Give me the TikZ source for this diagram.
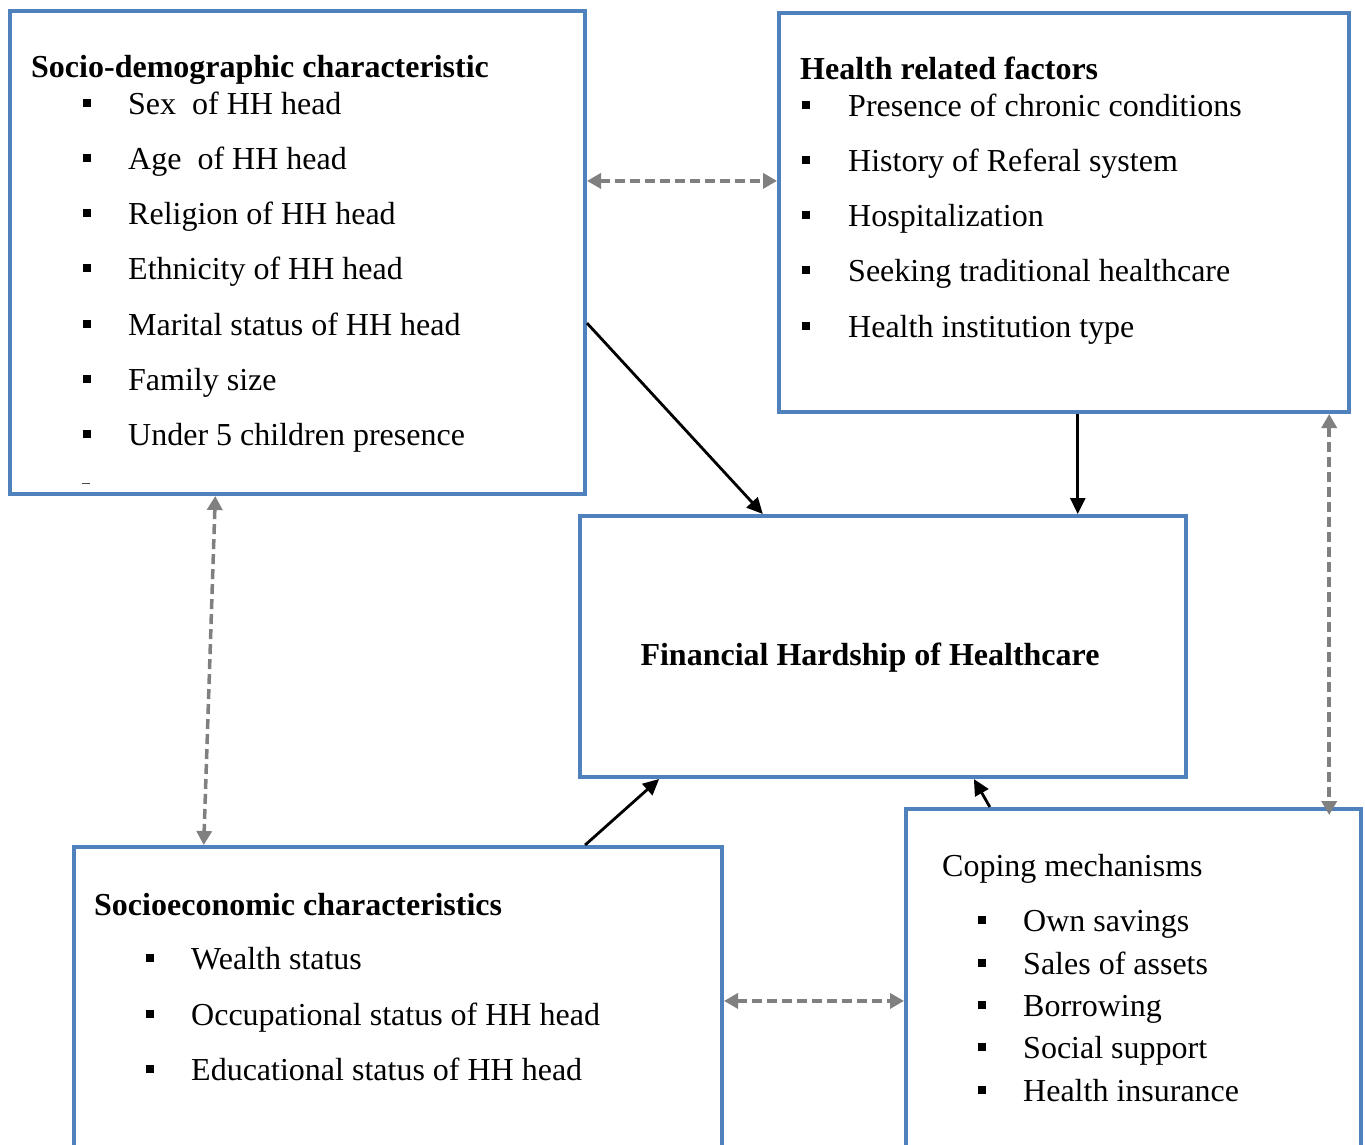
\documentclass[tikz,border=0pt]{standalone}
\usepackage{fontspec}
\setmainfont{Liberation Serif}
\usetikzlibrary{arrows.meta,calc}
\definecolor{boxblue}{HTML}{4F81BD}
\definecolor{arrgray}{HTML}{808080}
\tikzset{
  box/.style={draw=boxblue, line width=4pt, outer sep=2pt, inner sep=0pt, rectangle, anchor=center},
  txt/.style={anchor=base west, inner sep=0pt, font=\fontsize{32}{38}\selectfont},
  ttl/.style={anchor=base west, inner sep=0pt, font=\fontsize{32}{38}\selectfont\bfseries},
  bsq/.style={fill=black, minimum size=8pt, inner sep=0pt},
  solidarr/.style={line width=2.8pt, -{Triangle[length=16pt,width=15pt]}},
  dasharr/.style={arrgray, line width=3.5pt, dash pattern=on 10pt off 5pt,
    {Triangle[length=14pt,width=15pt]}-{Triangle[length=14pt,width=15pt]}},
}
\newcommand\bitem[5]{%
  \node[bsq] (#1b) at (#2,#4-11) {};
  \node[txt] (#1) at (#3,#4) {#5};
}
\begin{document}
\begin{tikzpicture}[x=1pt,y=-1pt]
\path[use as bounding box, clip] (0,0) rectangle (1365,1144);
\fill[white] (0,0) rectangle (1365,1144);

% boxes
\node[box, minimum width=575pt, minimum height=483pt] (box1) at (297.5,252.5) {};
\node[box, minimum width=570pt, minimum height=399pt] (box2) at (1064,212.5) {};
\node[box, minimum width=606pt, minimum height=261pt] (box3) at (883,646.5) {};
\node[box, minimum width=648pt, minimum height=401pt] (box4) at (398,1047.5) {};
\node[box, minimum width=455pt, minimum height=439pt] (box5) at (1133.5,1028.5) {};

% box 1 text
\node[ttl] (t1) at (31,77) {Socio-demographic characteristic};
\bitem{a1}{87}{128}{114}{Sex\ \ of HH head}
\bitem{a2}{87}{128}{169}{Age\ \ of HH head}
\bitem{a3}{87}{128}{224}{Religion of HH head}
\bitem{a4}{87}{128}{279}{Ethnicity of HH head}
\bitem{a5}{87}{128}{335}{Marital status of HH head}
\bitem{a6}{87}{128}{390}{Family size}
\bitem{a7}{87}{128}{445}{Under 5 children presence}
\draw[line width=1pt, black!70] (82,483) -- (90,483);

% box 2 text
\node[ttl] (t2) at (800,79) {Health related factors};
\bitem{h1}{806}{848}{116}{Presence of chronic conditions}
\bitem{h2}{806}{848}{171}{History of Referal system}
\bitem{h3}{806}{848}{226}{Hospitalization}
\bitem{h4}{806}{848}{281}{Seeking traditional healthcare}
\bitem{h5}{806}{848}{337}{Health institution type}

% box 3 text
\node[ttl, anchor=base] (t3) at (870,665) {Financial Hardship of Healthcare};

% box 4 text
\node[ttl] (t4) at (94,915) {Socioeconomic characteristics};
\bitem{s1}{150}{191}{969}{Wealth status}
\bitem{s2}{150}{191}{1025}{Occupational status of HH head}
\bitem{s3}{150}{191}{1080}{Educational status of HH head}

% box 5 text
\node[txt] (t5) at (942,876) {Coping mechanisms};
\bitem{c1}{982}{1023}{931}{Own savings}
\bitem{c2}{982}{1023}{974}{Sales of assets}
\bitem{c3}{982}{1023}{1016}{Borrowing}
\bitem{c4}{982}{1023}{1058}{Social support}
\bitem{c5}{982}{1023}{1101}{Health insurance}

% connector coordinates
\coordinate (p1) at ($(box1.north east)!0.645!(box1.south east)$);
\coordinate (q1) at ($(box3.north west)!0.303!(box3.north east)$);
\coordinate (p2) at ($(box2.south west)!0.524!(box2.south east)$);
\coordinate (p3) at ($(box4.north west)!0.787!(box4.north east)$);
\coordinate (q3) at ($(box3.south west)!0.133!(box3.south east)$);
\coordinate (p4) at ($(box5.north west)!0.187!(box5.north east)$);
\coordinate (q4) at ($(box3.south west)!0.649!(box3.south east)$);
\coordinate (p5) at ($(box1.north east)!0.353!(box1.south east)$);
\coordinate (p6) at ($(box1.south west)!0.358!(box1.south east)$);
\coordinate (q6) at ($(box4.north west)!0.202!(box4.north east)$);
\coordinate (p7) at ($(box2.south west)!0.962!(box2.south east)$);
\coordinate (q7) at ([yshift=-8pt]p7 |- box5.north);
\coordinate (p8) at ($(box4.north east)!0.385!(box4.south east)$);

% solid arrows
\draw[solidarr] (p1) -- (q1);
\draw[solidarr] (p2) -- (p2 |- box3.north);
\draw[solidarr] (p3) -- (q3);
\draw[solidarr] (p4) -- (q4);

% dashed double arrows
\draw[dasharr] (p5) -- (box2.west |- p5);
\draw[dasharr] (p6) -- (q6);
\draw[dasharr] (p7) -- (q7);
\draw[dasharr] (p8) -- (box5.west |- p8);
\end{tikzpicture}
\end{document}
